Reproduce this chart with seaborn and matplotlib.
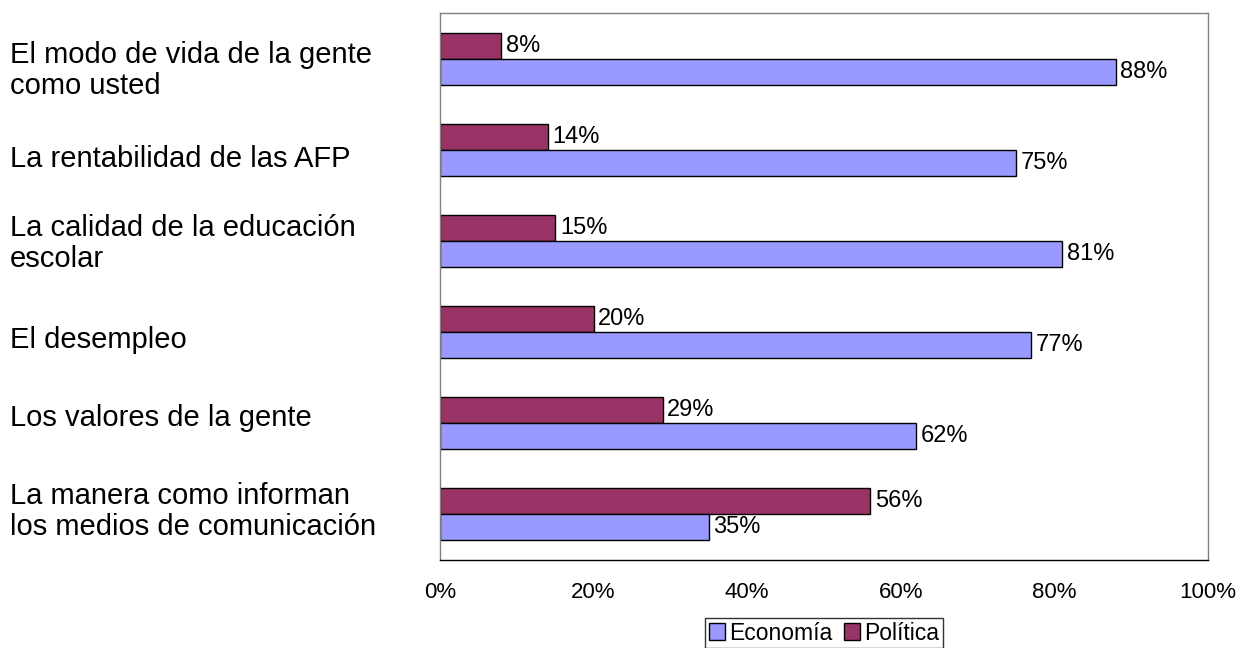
import pandas as pd
import numpy as np
import matplotlib.pyplot as plt
import seaborn as sns
from matplotlib.patches import Patch

categorias = [
    "El modo de vida de la gente\ncomo usted",
    "La rentabilidad de las AFP",
    "La calidad de la educación\nescolar",
    "El desempleo",
    "Los valores de la gente",
    "La manera como informan\nlos medios de comunicación",
]
economia = [88, 75, 81, 77, 62, 35]
politica = [8, 14, 15, 20, 29, 56]
series = ["Economía", "Política"]
colores = {"Economía": "#9999FF", "Política": "#993366"}
ticks_x = [0, 20, 40, 60, 80, 100]

df = pd.DataFrame({
    "categoria": categorias * 2,
    "valor": economia + politica,
    "serie": ["Economía"] * len(categorias) + ["Política"] * len(categorias),
})

sns.set_style("white")
plt.rcParams["font.family"] = ["Liberation Sans", "DejaVu Sans"]
plt.rcParams["text.color"] = "black"
plt.rcParams["xtick.labelcolor"] = "black"

fig = plt.figure(figsize=(12.39, 6.48), dpi=100)
ax = fig.add_axes([440 / 1239, 1 - 560 / 648, 768 / 1239, 547 / 648])

sns.barplot(data=df, y="categoria", x="valor", hue="serie",
            hue_order=["Política", "Economía"], order=categorias,
            palette=colores, saturation=1, width=0.57, edgecolor="black",
            linewidth=1, orient="h", legend=False, ax=ax)

# etiquetas de valor
for cont in ax.containers:
    for bar in cont:
        w = bar.get_width()
        ax.text(w + 0.6, bar.get_y() + bar.get_height() / 2, f"{w:.0f}%",
                va="center", ha="left", fontsize=17)

ax.set_xlim(0, 100)
ax.set_ylim(5.5, -0.5)
ax.set_xticks(ticks_x)
ax.set_xticklabels([f"{t}%" for t in ticks_x], fontsize=16)
ax.set_yticks(range(len(categorias)))
ax.set_yticklabels([])
ax.tick_params(axis="y", length=0)
ax.tick_params(axis="x", direction="out", length=5, width=1, color="black", pad=11)
ax.set_xlabel("")
ax.set_ylabel("")

# textos de categoria, alineados a la izquierda como en el original
desplaz = [12, 9, 3, 8, -5, -3]
for i, lab in enumerate(categorias):
    ax.annotate(lab, xy=(0, i), xycoords=("axes fraction", "data"),
                xytext=(-430 * 0.72, -desplaz[i] * 0.72), textcoords="offset points",
                ha="left", va="center", fontsize=21, linespacing=1.13)

for s in ["top", "right", "left"]:
    ax.spines[s].set_color("#808080")
    ax.spines[s].set_linewidth(1)
ax.spines["bottom"].set_color("black")
ax.spines["bottom"].set_linewidth(1)

handles = [Patch(facecolor=colores[s], edgecolor="black", label=s) for s in series]
fig.legend(handles=handles, loc="center", bbox_to_anchor=(824 / 1239, 1 - 633 / 648),
           ncol=2, fontsize=16.5, frameon=True, fancybox=False, edgecolor="black",
           handlelength=0.7, handleheight=0.7, handletextpad=0.2, columnspacing=0.5,
           borderpad=0.15, borderaxespad=0)

fig.savefig("out.png", dpi=100)
